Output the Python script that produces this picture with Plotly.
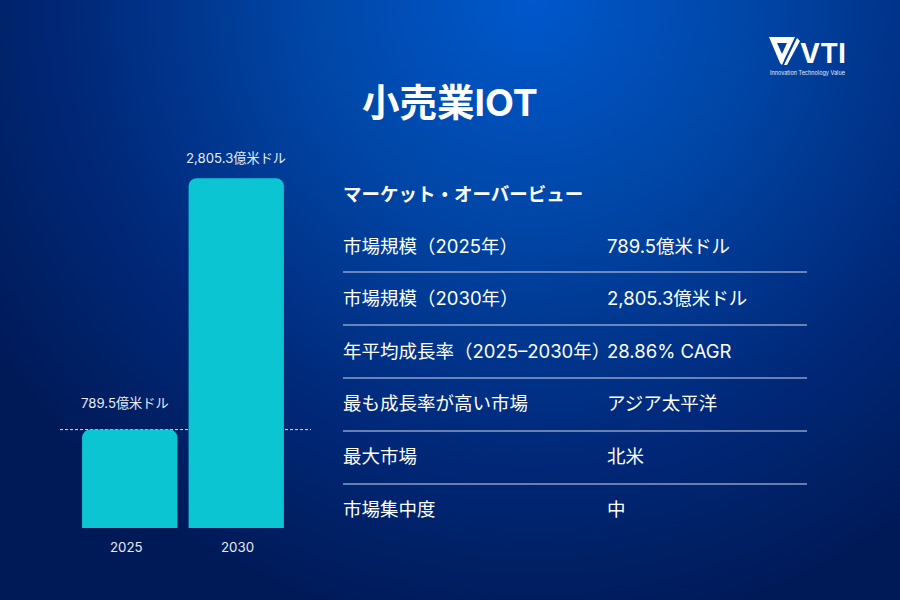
import base64
import plotly.graph_objects as go

years = ["2025", "2030"]
values = [789.5, 2805.3]
value_labels = ["789.5億米ドル", "2,805.3億米ドル"]

title = "小売業IOT"
table_header = "マーケット・オーバービュー"
row_names = ["市場規模（2025年）", "市場規模（2030年）", "年平均成長率（2025–2030年）",
             "最も成長率が高い市場", "最大市場", "市場集中度"]
row_values = ["789.5億米ドル", "2,805.3億米ドル", "28.86% CAGR", "アジア太平洋", "北米", "中"]

FONT = "Inter, 'Noto Sans CJK JP', sans-serif"
W, H = 900, 600


def px(x):
    return x / W


def py(y):
    return 1 - y / H


# background gradient goes in as an svg image
svg = f"""<svg xmlns="http://www.w3.org/2000/svg" width="{W}" height="{H}">
<defs><radialGradient id="g" gradientUnits="userSpaceOnUse" cx="530" cy="0" r="640">
<stop offset="0" stop-color="#0058cc"/>
<stop offset="0.35" stop-color="#0046a6"/>
<stop offset="0.7" stop-color="#00297a"/>
<stop offset="1" stop-color="#001a58"/>
</radialGradient></defs>
<rect width="{W}" height="{H}" fill="url(#g)"/>
</svg>"""
bg = "data:image/svg+xml;base64," + base64.b64encode(svg.encode()).decode()

fig = go.Figure(go.Bar(x=years, y=values, marker=dict(color="#0bc5d3", cornerradius=8, line_width=0),
                       width=0.895, hoverinfo="skip"))

fig.update_layout(
    width=W, height=H, margin=dict(l=0, r=0, t=0, b=0), autosize=False,
    paper_bgcolor="#001a58", plot_bgcolor="rgba(0,0,0,0)", showlegend=False,
    font=dict(family=FONT, color="white"),
    images=[dict(source=bg, xref="paper", yref="paper", x=0, y=1, sizex=1, sizey=1,
                 sizing="stretch", xanchor="left", yanchor="top", layer="below")],
)
fig.update_xaxes(domain=[px(76.5), px(289.5)], type="category", range=[-0.5, 1.5],
                 showgrid=False, zeroline=False, showline=False, ticks="", showticklabels=False)
fig.update_yaxes(domain=[py(528), py(154)], range=[0, 3000], visible=False)


def note(x, y, text, size=18.5, color="white", bold=False, anchor="left"):
    fig.add_annotation(xref="paper", yref="paper", x=px(x), y=py(y), text=f"<b>{text}</b>" if bold else text,
                       showarrow=False, xanchor=anchor, yanchor="middle",
                       font=dict(size=size, color=color, family=FONT), borderpad=0)


# bar value labels and year labels, the 2025 pair sits a little left of its bar
label_shift = [-5, 0]
year_shift = [-3, 1]
label_lift = [17, 10]
for i, (label, year) in enumerate(zip(value_labels, years)):
    fig.add_annotation(xref="x", yref="y", x=i, y=values[i], text=label, showarrow=False, yanchor="bottom",
                       yshift=label_lift[i], xshift=label_shift[i], font=dict(size=13.2, color="#e6ecf8"))
    fig.add_annotation(xref="x", yref="paper", x=i, y=py(547), text=year, showarrow=False, yanchor="middle",
                       xshift=year_shift[i], font=dict(size=13.3, color="#e6ecf8"))

# dashed reference line, behind the bars
fig.add_shape(type="line", xref="paper", yref="y", x0=px(60), x1=px(311), y0=values[0], y1=values[0],
              line=dict(color="#d5dcec", width=1, dash="3px,2px"), layer="below")

note(450, 102, title, size=37.5, bold=True, anchor="center")
note(342, 194, table_header, bold=True)

row_y = [246, 298, 351, 403, 456, 509]
line_y = [272, 325, 378, 431, 484]
for name, val, y in zip(row_names, row_values, row_y):
    note(342, y, name)
    note(606, y, val)
for y in line_y:
    fig.add_shape(type="line", xref="paper", yref="paper", x0=px(343), x1=px(807), y0=py(y), y1=py(y),
                  line=dict(color="#d0d8ea", width=1.2))

# logo
wing = [(769, 37), (795, 37), (785, 58), (782, 65), (780, 63)]
notch = [(777, 43), (787, 43), (782, 54)]
tip = [(797, 38), (800, 41), (787, 65), (784, 65)]


def path(points):
    return "M " + " L ".join(f"{px(a)} {py(b)}" for a, b in points) + " Z"


fig.add_shape(type="path", xref="paper", yref="paper", path=path(wing), fillcolor="white", line_width=0)
fig.add_shape(type="path", xref="paper", yref="paper", path=path(notch), fillcolor="#00409a", line_width=0)
fig.add_shape(type="path", xref="paper", yref="paper", path=path(tip), fillcolor="white", line_width=0)
note(823, 54, "<b>VTI</b>", size=27, anchor="center")
note(807, 72, "Innovation Technology Value", size=5.5, color="#e6ecf8", anchor="center")

fig.write_html("out.html", config=dict(displayModeBar=False), post_script="document.body.style.margin='0';")
